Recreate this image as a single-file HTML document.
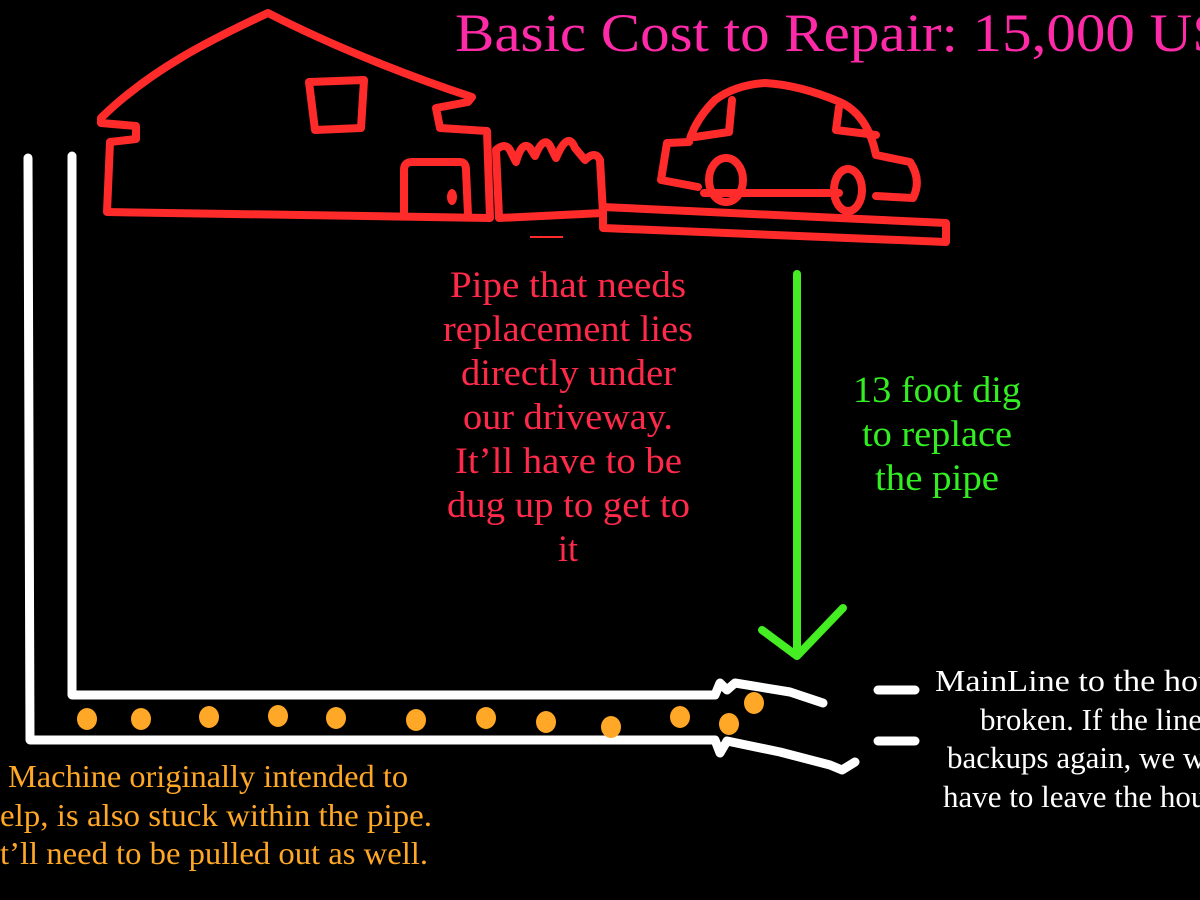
<!DOCTYPE html>
<html><head><style>html,body{margin:0;padding:0;background:#000;width:1200px;height:900px;overflow:hidden}</style></head>
<body>
<svg width="1200" height="900" viewBox="0 0 1200 900" xmlns="http://www.w3.org/2000/svg" style="display:block;background:#000">
<text x="455" y="51" font-family="Liberation Serif, serif" font-size="54" fill="#ff2aa8" textLength="770" lengthAdjust="spacingAndGlyphs">Basic Cost to Repair: 15,000 US</text>
<!-- house -->
<g fill="none" stroke="#ff2a2a" stroke-width="8" stroke-linecap="round" stroke-linejoin="round">
<path d="M268 13 C340 50 420 80 472 97 L468 102 L436 108 L440 128 L487 131 L490 218 L107 212 L110 142 L136 139 L136 126 L101 123 L101 118 C150 70 210 40 268 13 Z"/>
<path d="M309 82 L364 80 L361 128 L315 130 Z"/>
<path d="M404 215 L404 170 Q404 162 412 162 L460 162 Q466 162 466 170 L468 215"/>
<path d="M499 217 L496 150 Q505 142 510 150 L516 162 Q522 140 530 148 L535 156 Q545 132 552 150 L556 158 Q568 130 575 148 L585 160 Q595 150 600 160 L603 213 L499 218"/>
<path d="M603 207 L946 223 L946 242 L603 228 Z"/>
<path d="M704 193 L839 193 M876 196 L913 198 Q922 180 910 162 L876 155 Q868 115 840 102 Q800 85 765 83 Q735 85 715 100 Q695 120 689 142 L667 143 L661 180 L698 187"/>
<path d="M732 100 L729 132 L695 137 M839 107 L836 130 L876 135"/>
<ellipse cx="726" cy="180" rx="17" ry="22"/>
<ellipse cx="848" cy="190" rx="14" ry="21"/>
</g>
<ellipse cx="452" cy="197" rx="5" ry="8" fill="#ff2a2a"/>
<path d="M530 237 L563 237" stroke="#ff2a2a" stroke-width="2"/>
<!-- white pipes -->
<g fill="none" stroke="#fff" stroke-width="9" stroke-linecap="round" stroke-linejoin="round">
<path d="M28 158 L30 740 L715 740 L720 753 L727 741 L780 752 L830 765 L842 770 L855 762"/>
<path d="M72 156 L72 695 L715 695 L720 683 L727 690 L735 683 L790 692 L823 703"/>
<path d="M878 690 L915 690 M878 741 L915 741"/>
</g>
<!-- green arrow -->
<g fill="none" stroke="#44ee22" stroke-width="8" stroke-linecap="round" stroke-linejoin="round">
<path d="M797 274 L797 655"/>
<path d="M762 630 L797 656 L843 608"/>
</g>
<!-- orange dots -->
<g fill="#ffa726">
<ellipse cx="87" cy="719" rx="10" ry="11"/><ellipse cx="141" cy="719" rx="10" ry="11"/>
<ellipse cx="209" cy="717" rx="10" ry="11"/><ellipse cx="278" cy="716" rx="10" ry="11"/>
<ellipse cx="336" cy="718" rx="10" ry="11"/><ellipse cx="416" cy="720" rx="10" ry="11"/>
<ellipse cx="486" cy="718" rx="10" ry="11"/><ellipse cx="546" cy="722" rx="10" ry="11"/>
<ellipse cx="611" cy="727" rx="10" ry="11"/><ellipse cx="680" cy="717" rx="10" ry="11"/>
<ellipse cx="729" cy="724" rx="10" ry="11"/><ellipse cx="754" cy="703" rx="10" ry="11"/>
</g>
<g font-family="Liberation Serif, serif" font-size="37" fill="#ff2a4a">
<text x="450" y="297" textLength="236" lengthAdjust="spacingAndGlyphs">Pipe that needs</text>
<text x="443" y="341" textLength="250" lengthAdjust="spacingAndGlyphs">replacement lies</text>
<text x="461" y="385" textLength="215" lengthAdjust="spacingAndGlyphs">directly under</text>
<text x="463" y="429" textLength="210" lengthAdjust="spacingAndGlyphs">our driveway.</text>
<text x="455" y="473" textLength="227" lengthAdjust="spacingAndGlyphs">It’ll have to be</text>
<text x="447" y="517" textLength="243" lengthAdjust="spacingAndGlyphs">dug up to get to</text>
<text x="558" y="561" textLength="20" lengthAdjust="spacingAndGlyphs">it</text>
</g>
<g font-family="Liberation Serif, serif" font-size="37" fill="#33ee22">
<text x="853" y="402" textLength="168" lengthAdjust="spacingAndGlyphs">13 foot dig</text>
<text x="862" y="446" textLength="150" lengthAdjust="spacingAndGlyphs">to replace</text>
<text x="875" y="490" textLength="124" lengthAdjust="spacingAndGlyphs">the pipe</text>
</g>
<g font-family="Liberation Serif, serif" font-size="31" fill="#fff">
<text x="935" y="691" textLength="340" lengthAdjust="spacingAndGlyphs">MainLine to the house is</text>
<text x="980" y="730">broken. If the line</text>
<text x="947" y="768">backups again, we will</text>
<text x="943" y="807">have to leave the house</text>
</g>
<g font-family="Liberation Serif, serif" font-size="32" fill="#ffa726">
<text x="8" y="787" textLength="400" lengthAdjust="spacingAndGlyphs">Machine originally intended to</text>
<text x="0" y="826" textLength="432" lengthAdjust="spacingAndGlyphs">elp, is also stuck within the pipe.</text>
<text x="0" y="864" textLength="428" lengthAdjust="spacingAndGlyphs">t’ll need to be pulled out as well.</text>
</g>
</svg>
</body></html>
